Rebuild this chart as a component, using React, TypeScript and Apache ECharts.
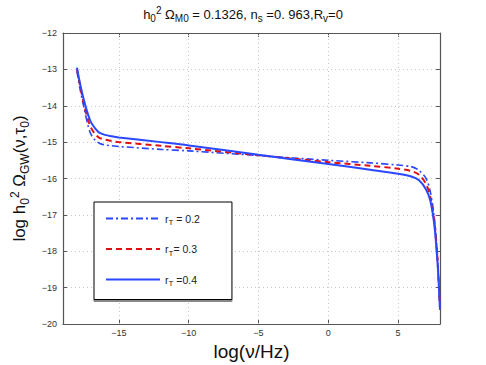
import React, { useEffect, useRef } from "react";
import * as echarts from "echarts";

const xs = [-18, -17.8, -17.5, -17.2, -17, -16.7, -16.4, -16, -15.5, -15, -12, -10, -5, 0, 3, 5, 6, 6.5, 7, 7.3, 7.6, 7.8, 7.9, 8];
const rT02 = [-13.05, -13.5, -14.05, -14.55, -14.78, -14.95, -15.03, -15.08, -15.1, -15.12, -15.2, -15.24, -15.37, -15.5, -15.57, -15.63, -15.68, -15.78, -16.0, -16.35, -17.1, -18.0, -18.8, -19.6];
const rT03 = [-13.0, -13.4, -13.95, -14.4, -14.6, -14.78, -14.88, -14.93, -14.97, -15.0, -15.1, -15.17, -15.36, -15.55, -15.65, -15.73, -15.8, -15.9, -16.15, -16.5, -17.2, -18.1, -18.8, -19.6];
const rT04 = [-12.95, -13.35, -13.85, -14.25, -14.45, -14.62, -14.74, -14.8, -14.84, -14.87, -15.0, -15.09, -15.35, -15.6, -15.76, -15.87, -15.95, -16.05, -16.3, -16.6, -17.3, -18.2, -18.8, -19.6];
const seriesNames = ["r_T = 0.2", "r_T= 0.3", "r_T =0.4"];
const legendLabels: Record<string, string> = {
  "r_T = 0.2": "{a|r}{s|T}{a| = 0.2}",
  "r_T= 0.3": "{a|r}{s|T}{a|= 0.3}",
  "r_T =0.4": "{a|r}{s|T}{a| =0.4}",
};
const xTicks = [-15, -10, -5, 0, 5];
const xMin = -19;
const xMax = 8;
const yMin = -20;
const yMax = -12;

const FONT = "'Liberation Sans', Arial, Helvetica, sans-serif";
const fmt = (v: number) => String(v).replace("-", "\u2212");

export default function App() {
  const ref = useRef<HTMLDivElement>(null);
  useEffect(() => {
    const chart = echarts.init(ref.current!, null, { renderer: "svg" });
    const pairs = (ys: number[]) => xs.map((x, i) => [x, ys[i]]);
    const blue = "#2a48ff";
    const red = "#e01010";
    const axisColor = "#555";
    const gridLine = { show: true, lineStyle: { color: "#c8c8c8", type: [1, 3] as any, width: 1 } };
    const mk = (size: number, sub: number, lh: number) => ({
      a: { fontSize: size, fontFamily: FONT, color: "#111", fontWeight: "normal", lineHeight: lh },
      sub: { fontSize: sub, fontFamily: FONT, color: "#111", fontWeight: "normal", lineHeight: sub, verticalAlign: "bottom" },
      sup: { fontSize: sub, fontFamily: FONT, color: "#111", fontWeight: "normal", lineHeight: sub, verticalAlign: "top" },
    });
    const axisLineStyle = { show: true, onZero: false, lineStyle: { color: axisColor, width: 1.2 } };
    chart.setOption({
      animation: false,
      backgroundColor: "#fff",
      title: {
        text: "{a|h}{sub|0}{sup|2}{a| Ω}{sub|M0}{a| = 0.1326, n}{sub|s}{a| =0. 963,R}{sub|v}{a|=0}",
        left: "center",
        top: 0,
        textStyle: { rich: mk(13, 10, 18) as any },
      },
      grid: { left: 63, right: 46, top: 33, bottom: 41, outerBoundsMode: "none", containLabel: false } as any,
      legend: {
        data: seriesNames,
        orient: "vertical",
        left: 94,
        top: 202,
        itemWidth: 54,
        itemHeight: 12,
        itemGap: 17,
        padding: [11, 32, 12, 11],
        backgroundColor: "#fff",
        borderColor: "#000",
        borderWidth: 1,
        shadowColor: "#888",
        shadowOffsetY: 2,
        shadowBlur: 0,
        itemStyle: { opacity: 0 },
        formatter: (n: string) => legendLabels[n],
        textStyle: {
          rich: {
            a: { fontSize: 10.5, fontFamily: FONT, color: "#222", lineHeight: 16 },
            s: { fontSize: 8, fontFamily: FONT, color: "#222", lineHeight: 8, verticalAlign: "bottom" },
          },
        },
      },
      xAxis: [
        {
          type: "value",
          min: xMin,
          max: xMax,
          position: "bottom",
          name: "log(ν/Hz)",
          nameLocation: "middle",
          nameGap: 12,
          nameTextStyle: { fontSize: 19, fontFamily: FONT, color: "#111", verticalAlign: "top" },
          axisLine: axisLineStyle,
          axisTick: { show: true, inside: true, length: 4, customValues: xTicks, lineStyle: { color: axisColor } },
          axisLabel: { customValues: xTicks, formatter: fmt, fontSize: 9, fontFamily: FONT, color: "#333", margin: 4 },
          splitLine: { show: false },
        },
        {
          type: "value",
          min: xMin,
          max: xMax,
          position: "top",
          axisLine: axisLineStyle,
          axisTick: { show: true, inside: true, length: 4, customValues: xTicks, lineStyle: { color: axisColor } },
          axisLabel: { show: false },
          splitLine: { show: false },
        },
      ],
      yAxis: [
        {
          type: "value",
          min: yMin,
          max: yMax,
          interval: 1,
          position: "left",
          name: "{a|log h}{sub|0}{sup|2}{a| Ω}{sub|GW}{a|(ν,τ}{sub|0}{a|)}",
          nameLocation: "middle",
          nameGap: 26,
          nameRotate: 90,
          nameTextStyle: { rich: mk(17, 12, 22) as any },
          axisLine: axisLineStyle,
          axisTick: { show: true, inside: true, length: 4, lineStyle: { color: axisColor } },
          axisLabel: { formatter: fmt, fontSize: 9, fontFamily: FONT, color: "#333", margin: 6 },
          splitLine: gridLine,
        },
        {
          type: "value",
          min: yMin,
          max: yMax,
          interval: 1,
          position: "right",
          axisLine: axisLineStyle,
          axisTick: { show: true, inside: true, length: 4, lineStyle: { color: axisColor } },
          axisLabel: { show: false },
          splitLine: { show: false },
        },
      ],
      series: [
        {
          name: seriesNames[0],
          type: "line",
          data: pairs(rT02),
          smooth: 0.3,
          showSymbol: false,
          symbol: "none",
          color: blue,
          lineStyle: { color: blue, width: 1.6, type: [7, 3, 2, 3] as any },
          z: 3,
          markLine: {
            silent: true,
            symbol: "none",
            label: { show: false },
            lineStyle: { color: "#c8c8c8", type: [1, 3] as any, width: 1 },
            data: xTicks.map((v) => ({ xAxis: v })),
            z: 1,
          },
        },
        {
          name: seriesNames[1],
          type: "line",
          data: pairs(rT03),
          smooth: 0.3,
          showSymbol: false,
          symbol: "none",
          color: red,
          lineStyle: { color: red, width: 2, type: [6, 4] as any },
          z: 4,
        },
        {
          name: seriesNames[2],
          type: "line",
          data: pairs(rT04),
          smooth: 0.3,
          showSymbol: false,
          symbol: "none",
          color: blue,
          lineStyle: { color: blue, width: 2, type: "solid" },
          z: 5,
        },
      ],
    });
    return () => chart.dispose();
  }, []);
  return <div ref={ref} style={{ width: 486, height: 365, position: "absolute", left: 0, top: 0 }} />;
}
